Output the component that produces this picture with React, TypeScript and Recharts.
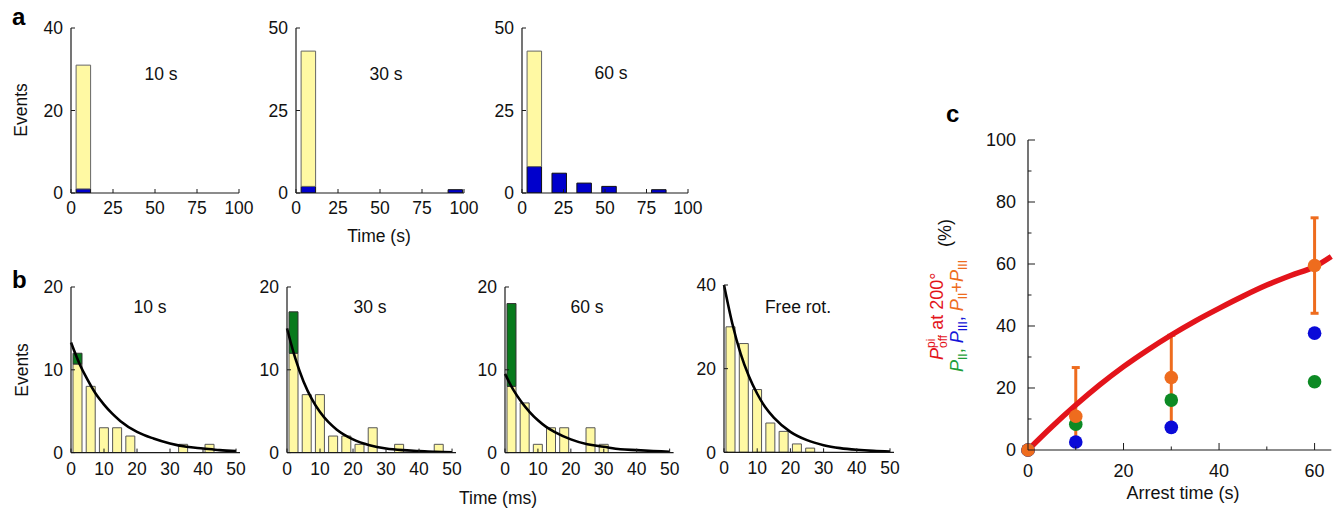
import React from "react";
import {
  ComposedChart,
  Bar,
  Line,
  Scatter,
  ErrorBar,
  XAxis,
  YAxis,
} from "recharts";

const FONT = "'Liberation Sans', Arial, Helvetica, sans-serif";
const AXIS = "#1a1a1a";
const YELLOW = "#fff9a3";
const BLUE = "#0000cc";
const GREEN = "#087a1c";
const RED = "#e3141b";
const ORANGE = "#ee6c1e";
const DOT_GREEN = "#0c8a24";
const DOT_BLUE = "#0a0ad8";

// ---- panel a: arrest histograms (s) ----
const A_BINS = [7.5, 22.5, 37.5, 52.5, 67.5, 82.5, 95];
const A10_BLUE = [1, 0, 0, 0, 0, 0, 0];
const A10_YELLOW = [30, 0, 0, 0, 0, 0, 0];
const A30_BLUE = [2, 0, 0, 0, 0, 0, 1];
const A30_YELLOW = [41, 0, 0, 0, 0, 0, 0];
const A60_BLUE = [8, 6, 3, 2, 0, 1, 0];
const A60_YELLOW = [35, 0, 0, 0, 0, 0, 0];
const A_XTICKS = [0, 25, 50, 75, 100];

// ---- panel b: dwell histograms (ms) ----
const B_BINS = [2, 6, 10, 14, 18, 22, 26, 30, 34, 38, 42, 46];
const B10_YELLOW = [10.7, 8, 3, 3, 2, 0, 0, 0, 1, 0, 1, 0];
const B10_GREEN = [1.3, 0, 0, 0, 0, 0, 0, 0, 0, 0, 0, 0];
const B30_YELLOW = [12, 7, 7, 2, 2, 1, 3, 0, 1, 0, 0, 1];
const B30_GREEN = [5, 0, 0, 0, 0, 0, 0, 0, 0, 0, 0, 0];
const B60_YELLOW = [8, 6, 1, 3, 3, 0, 3, 1, 0, 0, 0, 0];
const B60_GREEN = [10, 0, 0, 0, 0, 0, 0, 0, 0, 0, 0, 0];
const BFREE_YELLOW = [30, 26, 15, 7, 5, 2, 1, 0, 0, 0, 0, 0];
const BFREE_GREEN = [0, 0, 0, 0, 0, 0, 0, 0, 0, 0, 0, 0];
const B_XTICKS = [0, 10, 20, 30, 40, 50];

// fitted decay curves
const FIT_T = [0, 2.5, 5, 7.5, 10, 12.5, 15, 20, 25, 30, 35, 40, 45, 50];
const FIT_10 = [13.3, 10.8, 8.8, 7.1, 5.8, 4.7, 3.8, 2.5, 1.7, 1.1, 0.7, 0.5, 0.3, 0.2];
const FIT_30 = [15, 11.4, 8.6, 6.5, 4.9, 3.7, 2.8, 1.6, 0.9, 0.5, 0.3, 0.2, 0.1, 0.05];
const FIT_60 = [9.5, 7.6, 6.1, 4.9, 3.9, 3.1, 2.5, 1.6, 1.0, 0.7, 0.4, 0.3, 0.2, 0.1];
const FIT_FREE = [40, 30.8, 23.6, 18.2, 14, 10.7, 8.3, 4.9, 2.9, 1.7, 1.0, 0.6, 0.35, 0.2];

// ---- panel c ----
const C_TIMES = [0, 10, 30, 60];
const C_PII = [0, 8.3, 16.1, 22.0];
const C_PIII = [0, 2.6, 7.3, 37.7];
const C_SUM = [0, 10.9, 23.4, 59.5];
const C_ERR_LOW = [0, 8, 15.9, 15.4];
const C_ERR_HIGH = [0, 15.7, 13.6, 15.4];
const POFF_T = [0, 5, 10, 15, 20, 25, 30, 35, 40, 45, 50, 55, 60, 63.5];
const POFF = [0, 7.5, 14.5, 21, 26.9, 32.2, 37.1, 41.6, 45.7, 49.6, 53.2, 56.3, 59.1, 62.4];

const bins = (xs: number[], lo: number[], hi: number[]) =>
  xs.map((x, i) => ({ x, lo: lo[i], hi: hi[i] }));
const curve = (xs: number[], ys: number[]) => xs.map((x, i) => ({ x, y: ys[i] }));

const makeXTick =
  (len: number, fs: number, below: number, isMajor: (v: number) => boolean) =>
  (props: any) => {
    const { x, y, payload } = props;
    const major = isMajor(payload.value);
    return (
      <g>
        <line x1={x} x2={x} y1={y} y2={y - (major ? len : len / 2)} stroke={AXIS} strokeWidth={1} />
        {major && (
          <text x={x} y={y + below} textAnchor="middle" fontSize={fs} fontFamily={FONT} fill="#111">
            {payload.value}
          </text>
        )}
      </g>
    );
  };

const makeYTick =
  (len: number, fs: number, gap: number, isMajor: (v: number) => boolean) =>
  (props: any) => {
    const { x, y, payload } = props;
    const major = isMajor(payload.value);
    return (
      <g>
        <line x1={x} x2={x + (major ? len : len / 2)} y1={y} y2={y} stroke={AXIS} strokeWidth={1} />
        {major && (
          <text x={x - gap} y={y + fs * 0.36} textAnchor="end" fontSize={fs} fontFamily={FONT} fill="#111">
            {payload.value}
          </text>
        )}
      </g>
    );
  };

const YW = 50;
const XH = 35;
const MT = 10;
const MR = 20;

interface HistProps {
  left: number;
  top: number;
  right: number;
  bottom: number;
  data: { x: number; lo: number; hi: number }[];
  fit?: { x: number; y: number }[];
  xMax: number;
  xTicks: number[];
  yMax: number;
  yTicks: number[];
  barSize: number;
  loFill: string;
  hiFill: string;
  loStroke: string;
  hiStroke: string;
  below: number;
}

const Histogram = (p: HistProps) => {
  const w = p.right - p.left + YW + MR;
  const h = p.bottom - p.top + MT + XH;
  return (
    <div style={{ position: "absolute", left: p.left - YW, top: p.top - MT }}>
      <ComposedChart width={w} height={h} data={p.data} margin={{ top: MT, right: MR, bottom: 0, left: 0 }}>
        <XAxis
          type="number"
          dataKey="x"
          domain={[0, p.xMax]}
          ticks={p.xTicks}
          interval={0}
          allowDataOverflow
          height={XH}
          tickSize={0}
          tickMargin={0}
          tickLine={false}
          axisLine={{ stroke: AXIS, strokeWidth: 1.2 }}
          tick={makeXTick(4, 17.5, p.below, () => true)}
        />
        {/* hidden twin axis for the fit curve so it doesn't shrink the bar band */}
        <XAxis xAxisId="fit" type="number" dataKey="x" domain={[0, p.xMax]} hide height={0} />
        <YAxis
          type="number"
          domain={[0, p.yMax]}
          ticks={p.yTicks}
          interval={0}
          allowDataOverflow
          width={YW}
          tickSize={0}
          tickMargin={0}
          tickLine={false}
          axisLine={{ stroke: AXIS, strokeWidth: 1.2 }}
          tick={makeYTick(4, 17.5, 8, () => true)}
        />
        <Bar dataKey="lo" stackId="s" barSize={p.barSize} fill={p.loFill} stroke={p.loStroke} strokeWidth={1} isAnimationActive={false} />
        <Bar dataKey="hi" stackId="s" barSize={p.barSize} fill={p.hiFill} stroke={p.hiStroke} strokeWidth={1} isAnimationActive={false} />
        {p.fit && (
          <Line
            xAxisId="fit"
            data={p.fit}
            dataKey="y"
            type="monotone"
            stroke="#000"
            strokeWidth={2.6}
            dot={false}
            activeDot={false}
            isAnimationActive={false}
          />
        )}
      </ComposedChart>
    </div>
  );
};

const PanelC = () => {
  const left = 1027.7;
  const right = 1331;
  const top = 140;
  const bottom = 450;
  const w = right - left + YW + 8;
  const h = bottom - top + MT + XH;
  const pts = C_TIMES.map((t, i) => ({
    t,
    pii: C_PII[i],
    piii: C_PIII[i],
    sum: C_SUM[i],
    err: [C_ERR_LOW[i], C_ERR_HIGH[i]],
  }));
  const errPts = pts.filter((d) => d.t > 0);
  const poff = POFF_T.map((t, i) => ({ t, v: POFF[i] }));
  const dot = (fill: string) => (s: any) =>
    <circle cx={s.cx} cy={s.cy} r={6.8} fill={fill} />;
  return (
    <div style={{ position: "absolute", left: left - YW, top: top - MT }}>
      <ComposedChart width={w} height={h} margin={{ top: MT, right: 8, bottom: 0, left: 0 }}>
        <XAxis
          type="number"
          dataKey="t"
          domain={[0, 63.5]}
          ticks={[0, 10, 20, 30, 40, 50, 60]}
          interval={0}
          height={XH}
          tickSize={0}
          tickMargin={0}
          tickLine={false}
          axisLine={{ stroke: AXIS, strokeWidth: 1.2 }}
          tick={makeXTick(7, 18, 27, (v) => v % 20 === 0)}
        />
        <YAxis
          type="number"
          domain={[0, 100]}
          ticks={[0, 10, 20, 30, 40, 50, 60, 70, 80, 90, 100]}
          interval={0}
          width={YW}
          tickSize={0}
          tickMargin={0}
          tickLine={false}
          axisLine={{ stroke: AXIS, strokeWidth: 1.2 }}
          tick={makeYTick(7, 18, 12, (v) => v % 20 === 0)}
        />
        <Scatter data={errPts} dataKey="sum" shape={() => <g />} isAnimationActive={false} zIndex={350}>
          <ErrorBar dataKey="err" direction="y" width={4} stroke={ORANGE} strokeWidth={3} zIndex={350} />
        </Scatter>
        <Line
          data={poff}
          dataKey="v"
          type="monotone"
          stroke={RED}
          strokeWidth={5.5}
          dot={false}
          activeDot={false}
          isAnimationActive={false}
          zIndex={400}
        />
        <Scatter data={pts} dataKey="pii" shape={dot(DOT_GREEN)} isAnimationActive={false} zIndex={610} />
        <Scatter data={pts} dataKey="piii" shape={dot(DOT_BLUE)} isAnimationActive={false} zIndex={620} />
        <Scatter data={pts} dataKey="sum" shape={dot(ORANGE)} isAnimationActive={false} zIndex={630} />
      </ComposedChart>
    </div>
  );
};

const Overlay = () => {
  const t = { fontFamily: FONT, fontSize: 17.5, fill: "#111" };
  const letter = { fontFamily: FONT, fontSize: 24, fontWeight: 700, fill: "#000" };
  return (
    <svg
      width={1339}
      height={510}
      style={{ position: "absolute", left: 0, top: 0, pointerEvents: "none" }}
    >
      <text x={12} y={25} {...letter}>a</text>
      <text x={12} y={288} {...letter}>b</text>
      <text x={946} y={122} {...letter}>c</text>

      <text x={27} y={110} textAnchor="middle" transform="rotate(-90 27 110)" {...t}>Events</text>
      <text x={28} y={370} textAnchor="middle" transform="rotate(-90 28 370)" {...t}>Events</text>

      <text x={161} y={80} textAnchor="middle" {...t}>10 s</text>
      <text x={386} y={80} textAnchor="middle" {...t}>30 s</text>
      <text x={611} y={79} textAnchor="middle" {...t}>60 s</text>
      <text x={379} y={242} textAnchor="middle" {...t}>Time (s)</text>

      <text x={150} y={313} textAnchor="middle" {...t}>10 s</text>
      <text x={370} y={313} textAnchor="middle" {...t}>30 s</text>
      <text x={587} y={313} textAnchor="middle" {...t}>60 s</text>
      <text x={798} y={313} textAnchor="middle" {...t}>Free rot.</text>
      <text x={498} y={504} textAnchor="middle" {...t}>Time (ms)</text>

      <text x={1183} y={499} textAnchor="middle" {...t} fontSize={18}>Arrest time (s)</text>

      <text transform="translate(943,360) rotate(-90)" fontFamily={FONT} fontSize={18} fill={RED}>
        <tspan fontStyle="italic">P</tspan>
        <tspan fontSize={12} dy={-8}>pi</tspan>
        <tspan fontSize={12} dx={-9.3} dy={12}>off</tspan>
        <tspan dy={-4}>{"\u00a0at 200°"}</tspan>
      </text>
      <text transform="translate(951,247) rotate(-90)" fontFamily={FONT} fontSize={18} fill="#111">(%)</text>
      <text transform="translate(963,372) rotate(-90)" fontFamily={FONT} fontSize={18}>
        <tspan fill="#1e9e3a" fontStyle="italic">P</tspan>
        <tspan fill="#1e9e3a" fontSize={12} dy={4}>II</tspan>
        <tspan fill="#1e9e3a" dy={-4}>,</tspan>
        <tspan fill="#1414d8" fontStyle="italic" dx={5}>P</tspan>
        <tspan fill="#1414d8" fontSize={12} dy={4}>III</tspan>
        <tspan fill="#1414d8" dy={-4}>,</tspan>
        <tspan fill={ORANGE} fontStyle="italic" dx={5}>P</tspan>
        <tspan fill={ORANGE} fontSize={12} dy={4}>II</tspan>
        <tspan fill={ORANGE} dy={-4}>+</tspan>
        <tspan fill={ORANGE} fontStyle="italic">P</tspan>
        <tspan fill={ORANGE} fontSize={12} dy={4}>III</tspan>
      </text>
    </svg>
  );
};

export default function App() {
  const aCommon = {
    top: 28,
    bottom: 193,
    xMax: 100,
    xTicks: A_XTICKS,
    barSize: 14.5,
    loFill: BLUE,
    hiFill: YELLOW,
    loStroke: "#111",
    hiStroke: "#666",
    below: 21,
  };
  const bCommon = {
    top: 286.7,
    bottom: 452.3,
    xMax: 51.2,
    xTicks: B_XTICKS,
    barSize: 9,
    loFill: YELLOW,
    hiFill: GREEN,
    loStroke: "#555",
    hiStroke: "#333",
    below: 22,
  };
  return (
    <div
      style={{
        position: "absolute",
        left: 0,
        top: 0,
        width: 1339,
        height: 510,
        background: "#fff",
        fontFamily: FONT,
        overflow: "hidden",
      }}
    >
      <Histogram {...aCommon} left={71} right={239} data={bins(A_BINS, A10_BLUE, A10_YELLOW)} yMax={40} yTicks={[0, 20, 40]} />
      <Histogram {...aCommon} left={296} right={464} data={bins(A_BINS, A30_BLUE, A30_YELLOW)} yMax={50} yTicks={[0, 25, 50]} />
      <Histogram {...aCommon} left={522} right={688} data={bins(A_BINS, A60_BLUE, A60_YELLOW)} yMax={50} yTicks={[0, 25, 50]} />

      <Histogram {...bCommon} left={71} right={240} data={bins(B_BINS, B10_YELLOW, B10_GREEN)} fit={curve(FIT_T, FIT_10)} yMax={20} yTicks={[0, 10, 20]} />
      <Histogram {...bCommon} left={287.3} right={456.3} data={bins(B_BINS, B30_YELLOW, B30_GREEN)} fit={curve(FIT_T, FIT_30)} yMax={20} yTicks={[0, 10, 20]} />
      <Histogram {...bCommon} left={504.7} right={673.3} data={bins(B_BINS, B60_YELLOW, B60_GREEN)} fit={curve(FIT_T, FIT_60)} yMax={20} yTicks={[0, 10, 20]} />
      <Histogram {...bCommon} top={285} left={724} right={894} data={bins(B_BINS, BFREE_YELLOW, BFREE_GREEN)} fit={curve(FIT_T, FIT_FREE)} yMax={40} yTicks={[0, 20, 40]} />

      <PanelC />
      <Overlay />
    </div>
  );
}
